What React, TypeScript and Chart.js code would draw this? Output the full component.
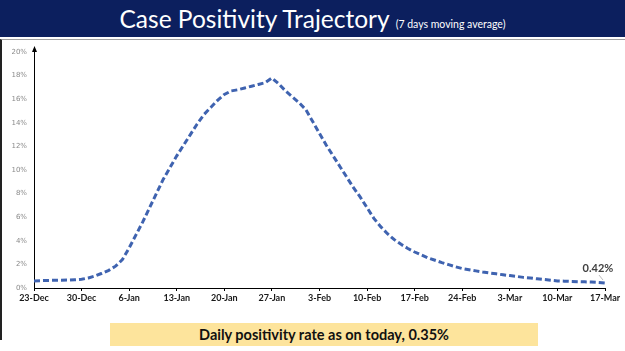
import React, { useEffect, useRef } from "react";
import { Chart, registerables } from "chart.js";

Chart.register(...registerables);

const weekLabels = ["23-Dec", "30-Dec", "6-Jan", "13-Jan", "20-Jan", "27-Jan", "3-Feb", "10-Feb", "17-Feb", "24-Feb", "3-Mar", "10-Mar", "17-Mar"];

// 7-day moving average positivity (%), daily from 23-Dec to 17-Mar
const positivity = [
  0.60, 0.62, 0.64, 0.65, 0.66, 0.67, 0.70,
  0.74, 0.85, 1.02, 1.25, 1.50, 1.85, 2.40,
  3.40, 4.50, 5.60, 6.80, 8.00, 9.20, 10.20,
  11.20, 12.10, 13.00, 13.90, 14.70, 15.30, 15.90,
  16.40, 16.70, 16.80, 16.95, 17.10, 17.25, 17.40,
  17.80, 17.30, 16.70, 16.20, 15.70, 15.10, 14.10,
  13.10, 12.10, 11.20, 10.30, 9.40, 8.50, 7.70,
  6.80, 5.90, 5.20, 4.60, 4.10, 3.70, 3.35,
  3.05, 2.80, 2.55, 2.35, 2.15, 1.98, 1.80,
  1.65, 1.55, 1.45, 1.35, 1.27, 1.20, 1.12,
  1.05, 0.98, 0.90, 0.85, 0.78, 0.72, 0.66,
  0.60, 0.58, 0.56, 0.54, 0.52, 0.50, 0.47,
  0.42,
];

const yTicks = [0, 2, 4, 6, 8, 10, 12, 14, 16, 18, 20];
const lastLabel = "0.42%";
const titleText = "Case Positivity Trajectory";
const subtitleText = "(7 days moving average)";
const footerText = "Daily positivity rate as on today, 0.35%";

// one category label per day; weekly ones are shown
const dayLabels = positivity.map((_, i) => (i % 7 === 0 ? weekLabels[i / 7] : ""));

const annotationPlugin = {
  id: "annot",
  afterDatasetsDraw(chart: any) {
    const { ctx } = chart;
    const meta = chart.getDatasetMeta(0);
    const pt = meta.data[meta.data.length - 1];
    if (!pt) return;
    ctx.save();
    ctx.strokeStyle = "#bbbbbb";
    ctx.lineWidth = 1;
    ctx.beginPath();
    ctx.moveTo(pt.x - 2, pt.y - 3);
    ctx.lineTo(pt.x - 6, pt.y - 8);
    ctx.stroke();
    ctx.fillStyle = "#404040";
    ctx.font = "bold 11px Lato, 'Open Sans', sans-serif";
    ctx.textAlign = "center";
    ctx.textBaseline = "middle";
    ctx.fillText(lastLabel, pt.x - 7, pt.y - 15);
    // arrow head on top of y axis
    const ya = chart.scales.y;
    const x0 = ya.right;
    const top = ya.top;
    ctx.fillStyle = "#000";
    ctx.beginPath();
    ctx.moveTo(x0 + 0.5, top - 6);
    ctx.lineTo(x0 - 2, top);
    ctx.lineTo(x0 + 3, top);
    ctx.closePath();
    ctx.fill();
    ctx.restore();
  },
};

export default function App() {
  const ref = useRef<HTMLCanvasElement>(null);
  useEffect(() => {
    if (!ref.current) return;
    const chart = new Chart(ref.current, {
      type: "line",
      data: {
        labels: dayLabels,
        datasets: [
          {
            data: positivity,
            borderColor: "#3f63b0",
            borderWidth: 3,
            borderDash: [6, 3],
            pointRadius: 0,
            tension: 0,
            fill: false,
          },
        ],
      },
      options: {
        animation: false,
        responsive: false,
        maintainAspectRatio: false,
        layout: { padding: { top: 12, right: 20, left: 0, bottom: 0 } },
        plugins: { legend: { display: false }, tooltip: { enabled: false } },
        scales: {
          x: {
            type: "category",
            offset: false,
            border: { display: true, color: "#000", width: 1 },
            grid: {
              drawOnChartArea: false,
              drawTicks: true,
              tickLength: 3,
              color: (c: any) => (c.index % 7 === 0 ? "#000" : "rgba(0,0,0,0)"),
            },
            ticks: {
              autoSkip: false,
              maxRotation: 0,
              minRotation: 0,
              padding: 2,
              color: "#1a1a1a",
              font: { family: "Lato, 'Open Sans', sans-serif", size: 9, weight: "bold" },
              callback: (_v: any, i: number) => dayLabels[i],
            },
            afterFit: (s: any) => {
              s.height = 22;
            },
          },
          y: {
            min: 0,
            max: 20,
            border: { display: true, color: "#000", width: 1 },
            grid: { display: false, drawTicks: false },
            afterBuildTicks: (s: any) => {
              s.ticks = yTicks.map((v) => ({ value: v }));
            },
            ticks: {
              padding: 7,
              color: "#8a8a8a",
              font: { family: "'DejaVu Sans', sans-serif", size: 7 },
              callback: (v: any) => v + "%",
            },
            afterFit: (s: any) => {
              s.width = 34;
            },
          },
        },
      },
      plugins: [annotationPlugin],
    } as any);
    return () => chart.destroy();
  }, []);

  return (
    <div style={{ position: "fixed", left: 0, top: 0, width: 625, height: 351, background: "#fff", overflow: "hidden" }}>
      <div
        style={{
          position: "absolute",
          left: 0,
          top: 0,
          width: 625,
          height: 37,
          background: "#0c1f5e",
          color: "#fff",
          display: "flex",
          alignItems: "baseline",
          justifyContent: "center",
          paddingTop: 4,
          boxSizing: "border-box",
          fontFamily: "Lato, 'Open Sans', sans-serif",
        }}
      >
        <span style={{ fontSize: 24.5 }}>{titleText}</span>
        <span style={{ fontSize: 10.5, marginLeft: 6 }}>{subtitleText}</span>
      </div>
      <div
        style={{
          position: "absolute",
          left: 0,
          top: 39,
          width: 625,
          height: 301,
          borderTop: "1px solid #a0a0a0",
          borderLeft: "2px solid #222",
          boxSizing: "border-box",
        }}
      />
      <canvas ref={ref} width={625} height={270} style={{ position: "absolute", left: 0, top: 40, width: 625, height: 270 }} />
      <div
        style={{
          position: "absolute",
          left: 110,
          top: 323,
          width: 428,
          height: 23,
          background: "#fde49c",
          display: "flex",
          alignItems: "center",
          justifyContent: "center",
          fontFamily: "Lato, 'Open Sans', sans-serif",
          fontWeight: "bold",
          fontSize: 14.5,
          color: "#111",
        }}
      >
        {footerText}
      </div>
    </div>
  );
}
